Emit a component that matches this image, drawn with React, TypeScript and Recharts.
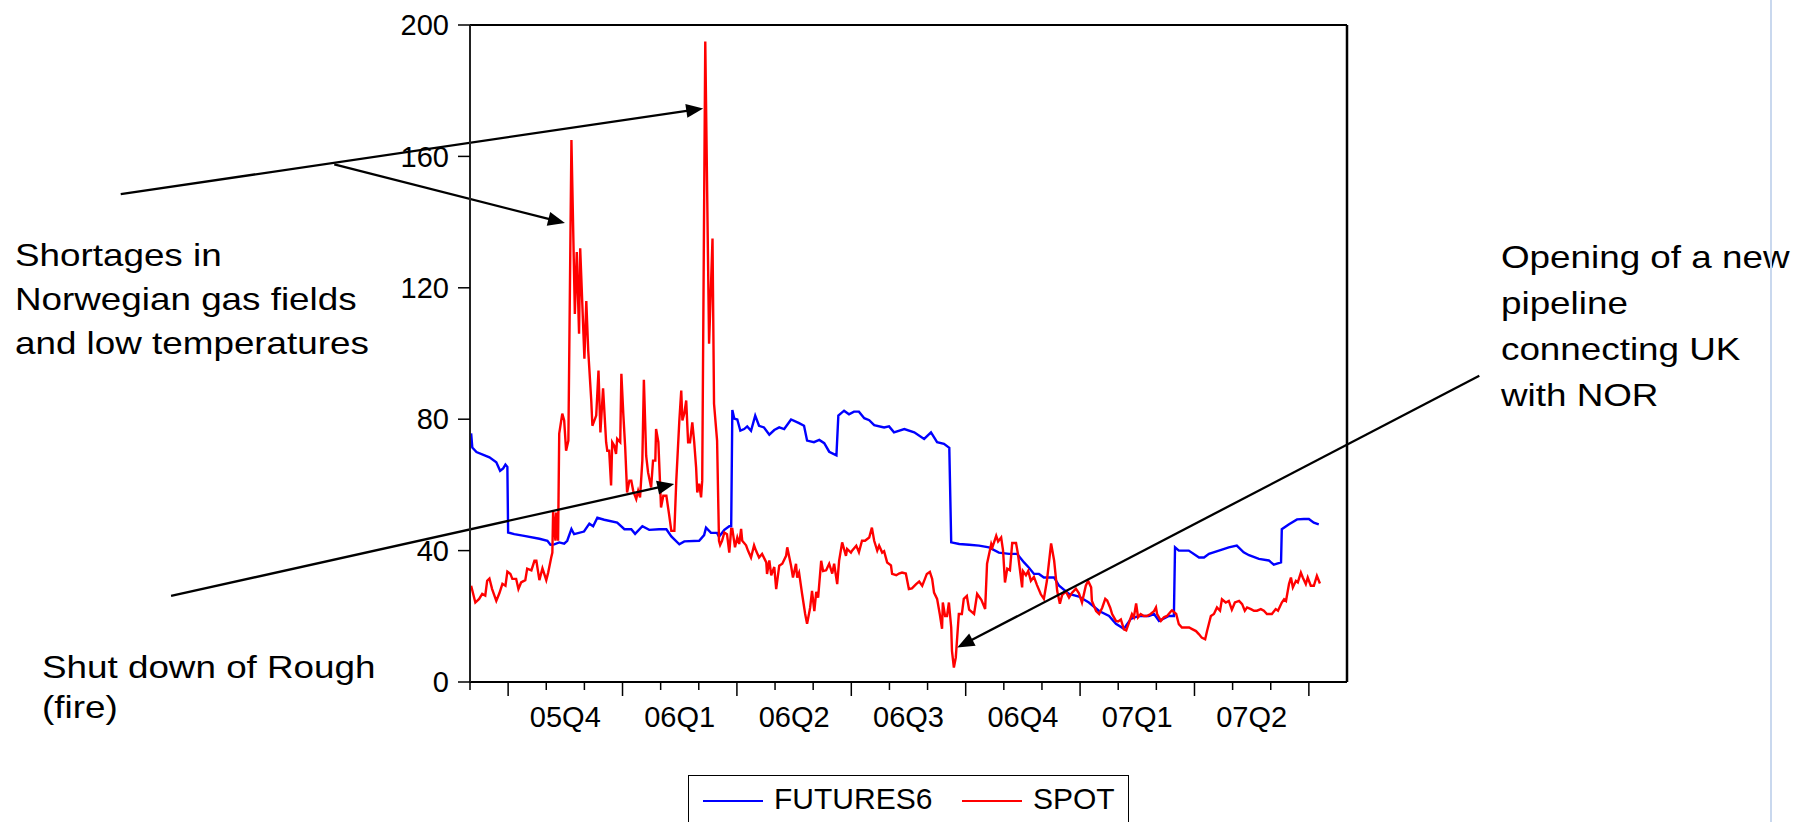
import React from 'react';
import { LineChart, Line, XAxis, YAxis, ReferenceLine, Legend } from 'recharts';

const FONT = '"Liberation Sans", Arial, Helvetica, sans-serif';

// x positions: months elapsed since 1 Sep 2005 (axis runs Sep 2005 .. Aug 2007)
const futuresMonths = [
  0.03, 0.06, 0.17, 0.51, 0.69, 0.79, 0.87, 0.93, 0.98, 1.0,
  1.16, 1.42, 1.82, 2.03, 2.11, 2.21, 2.34, 2.47, 2.55, 2.66,
  2.73, 2.99, 3.13, 3.23, 3.34, 3.52, 3.86, 4.05, 4.23, 4.33,
  4.52, 4.7, 4.96, 5.15, 5.28, 5.49, 5.62, 6.01, 6.14, 6.19,
  6.32, 6.48, 6.53, 6.67, 6.8, 6.85, 6.88, 6.93, 7.01, 7.09,
  7.19, 7.27, 7.37, 7.48, 7.58, 7.71, 7.85, 7.98, 8.11, 8.24,
  8.42, 8.63, 8.76, 8.84, 9.02, 9.16, 9.29, 9.42, 9.61, 9.66,
  9.81, 9.94, 10.07, 10.2, 10.34, 10.47, 10.6, 10.86, 10.99, 11.12,
  11.39, 11.65, 11.91, 12.09, 12.25, 12.43, 12.57, 12.62, 12.83, 13.09,
  13.35, 13.61, 13.87, 14.14, 14.35, 14.53, 14.66, 14.79, 14.92, 15.05,
  15.32, 15.45, 15.71, 15.97, 16.23, 16.5, 16.76, 16.94, 17.15, 17.33,
  17.54, 17.8, 17.94, 18.07, 18.33, 18.46, 18.49, 18.59, 18.85, 19.12,
  19.25, 19.38, 19.64, 19.9, 20.11, 20.29, 20.43, 20.69, 20.95, 21.08,
  21.27, 21.29, 21.48, 21.69, 21.87, 22.0, 22.13, 22.26,
];
const futuresValues = [
  75.7, 71.4, 70, 68.4, 66.9, 64.3, 65, 66.2, 65.5, 45.5,
  45, 44.5, 43.6, 43, 41.8, 41.9, 42.5, 42.1, 43, 46.6,
  45, 45.8, 48.2, 47.4, 50, 49.4, 48.5, 46.5, 46.5, 45.1,
  47.4, 46.3, 46.5, 46.5, 44.3, 41.9, 42.8, 43, 44.7, 47,
  45.4, 45.4, 44.2, 46.3, 47.4, 47.4, 82.8, 80.2, 79.9, 76.5,
  77, 77.8, 76.5, 81.1, 78, 77.5, 75.3, 76.7, 77.5, 77,
  79.9, 78.8, 78, 73.5, 73, 73.7, 72.7, 70.1, 69, 81.1,
  82.6, 81.5, 82.3, 82.3, 80.3, 79.7, 78.2, 77.5, 77.8, 76,
  77, 76, 74, 76, 73, 72.5, 71.3, 42.5, 42, 41.8,
  41.5, 41, 39.4, 39, 39, 36.4, 34.8, 32.9, 32.9, 31.8,
  31.8, 29.3, 26.8, 26, 24.2, 21.6, 20.1, 17.7, 16.2, 19.2,
  20.1, 20.1, 20.7, 18.6, 20.1, 20.1, 41, 40, 40, 37.9,
  37.9, 39, 40, 41, 41.5, 39.5, 38.6, 37.5, 37, 35.7,
  36.4, 46.5, 48, 49.5, 49.6, 49.6, 48.5, 48,
];

const spotMonths = [
  0.03, 0.14, 0.24, 0.32, 0.4, 0.45, 0.51, 0.58, 0.69, 0.77,
  0.85, 0.93, 0.98, 1.06, 1.11, 1.21, 1.27, 1.34, 1.45, 1.5,
  1.61, 1.69, 1.74, 1.82, 1.9, 2.0, 2.05, 2.13, 2.16, 2.18,
  2.24, 2.26, 2.31, 2.34, 2.42, 2.47, 2.52, 2.58, 2.66, 2.75,
  2.8, 2.86, 2.89, 3.0, 3.05, 3.1, 3.18, 3.21, 3.31, 3.37,
  3.42, 3.49, 3.57, 3.6, 3.65, 3.7, 3.73, 3.78, 3.83, 3.86,
  3.94, 3.97, 4.02, 4.07, 4.12, 4.18, 4.23, 4.28, 4.36, 4.41,
  4.46, 4.52, 4.56, 4.62, 4.67, 4.75, 4.8, 4.86, 4.88, 4.94,
  5.01, 5.07, 5.15, 5.22, 5.28, 5.36, 5.41, 5.49, 5.54, 5.57,
  5.62, 5.67, 5.72, 5.77, 5.83, 5.88, 5.93, 5.96, 6.01, 6.06,
  6.09, 6.17, 6.27, 6.36, 6.4, 6.48, 6.53, 6.56, 6.61, 6.67,
  6.74, 6.8, 6.85, 6.88, 6.95, 7.01, 7.06, 7.11, 7.14, 7.24,
  7.29, 7.37, 7.45, 7.5, 7.58, 7.66, 7.77, 7.79, 7.85, 7.9,
  7.98, 8.03, 8.11, 8.19, 8.29, 8.32, 8.42, 8.47, 8.55, 8.58,
  8.63, 8.71, 8.79, 8.84, 8.92, 8.97, 9.03, 9.08, 9.13, 9.21,
  9.26, 9.34, 9.42, 9.5, 9.55, 9.63, 9.68, 9.76, 9.86, 9.89,
  9.99, 10.02, 10.13, 10.2, 10.28, 10.36, 10.47, 10.54, 10.6, 10.68,
  10.73, 10.81, 10.86, 10.94, 11.04, 11.07, 11.18, 11.25, 11.33, 11.43,
  11.51, 11.59, 11.7, 11.78, 11.86, 11.91, 11.98, 12.06, 12.12, 12.17,
  12.25, 12.32, 12.38, 12.4, 12.46, 12.51, 12.56, 12.62, 12.64, 12.69,
  12.74, 12.82, 12.9, 12.95, 13.03, 13.09, 13.22, 13.3, 13.41, 13.51,
  13.56, 13.67, 13.7, 13.8, 13.85, 13.93, 13.98, 14.03, 14.09, 14.16,
  14.22, 14.32, 14.37, 14.48, 14.5, 14.58, 14.64, 14.71, 14.79, 14.87,
  14.97, 15.05, 15.13, 15.24, 15.32, 15.4, 15.47, 15.53, 15.63, 15.71,
  15.79, 15.89, 15.97, 16.05, 16.15, 16.21, 16.29, 16.31, 16.42, 16.5,
  16.58, 16.66, 16.71, 16.79, 16.84, 16.94, 17.0, 17.07, 17.15, 17.21,
  17.28, 17.36, 17.41, 17.47, 17.52, 17.59, 17.67, 17.75, 17.85, 17.94,
  17.99, 18.02, 18.12, 18.2, 18.28, 18.39, 18.41, 18.52, 18.59, 18.67,
  18.78, 18.86, 18.94, 19.04, 19.12, 19.19, 19.28, 19.33, 19.43, 19.51,
  19.59, 19.67, 19.72, 19.82, 19.9, 19.98, 20.06, 20.17, 20.25, 20.32,
  20.38, 20.48, 20.56, 20.64, 20.74, 20.82, 20.9, 21.03, 21.13, 21.19,
  21.29, 21.35, 21.4, 21.48, 21.53, 21.58, 21.66, 21.71, 21.79, 21.84,
  21.92, 21.97, 22.05, 22.13, 22.21, 22.29,
];
const spotValues = [
  29.3, 24.2, 25.3, 26.8, 26.3, 30.8, 31.5, 28.3, 24.7, 27,
  29.9, 29.3, 33.6, 32.9, 31.4, 31.4, 28.3, 30.3, 31, 34.5,
  34, 36.9, 36.9, 31, 34.6, 31, 33.3, 37.9, 39.4, 52,
  43, 51.6, 43, 75.6, 81.7, 79.6, 70.4, 73.5, 165, 112,
  130.9, 106, 132, 98.4, 116, 101, 85.7, 78, 81.1, 94.8,
  76, 89.4, 73, 70.4, 70.4, 59.8, 73, 72, 69.4, 74,
  73, 93.8, 81.7, 71.4, 57.7, 61.3, 61.3, 58.2, 55.7, 58.2,
  56.2, 67.4, 92, 68.9, 63.8, 59.2, 67.4, 67.4, 77, 73,
  53.1, 56.7, 56.7, 51.1, 46, 46, 61.3, 79.6, 88.7, 79.6,
  81.7, 85.7, 73, 73, 79, 73, 65.3, 57.7, 60.4, 56.2,
  61.3, 195, 103, 135, 84.7, 73.5, 43, 41.7, 43, 45.5,
  45, 39.4, 46.6, 46.6, 41, 44, 42, 46.6, 43, 41.6,
  40, 37.9, 41.6, 40, 37.9, 39, 36.4, 32.9, 37, 32.5,
  35, 28.3, 35.4, 36, 38.4, 41, 35.4, 31.8, 36, 31.8,
  33.3, 26.8, 20.7, 17.7, 22.6, 27.7, 21.6, 27.4, 25.7, 36.9,
  33.8, 34, 36, 33, 36, 29.8, 36.9, 42.5, 38.4, 40.5,
  39.4, 40, 41.5, 39.5, 43, 43, 44, 47, 43, 40,
  41.5, 39.4, 39.8, 36.4, 35.5, 32.9, 32.5, 33, 33.3, 33,
  28.3, 28.5, 29.8, 30.6, 29.3, 30.8, 32.9, 33.5, 31.4, 27.2,
  25.3, 20.7, 16.2, 24.2, 20.1, 20.1, 24.2, 16.6, 9.5, 4.4,
  7.4, 20.7, 20.7, 25.3, 26.2, 22, 20.7, 26.8, 25, 22.2,
  36, 42, 41, 44.5, 42.8, 44, 40, 30.3, 34.5, 34,
  42.3, 42.3, 39, 28.8, 33.8, 32.5, 33.8, 30.8, 32, 29.5,
  26.7, 25.3, 30.8, 42.2, 36.9, 27.7, 23.8, 26.5, 27.5, 25.7,
  27.2, 28.4, 27, 24.2, 29.3, 30.8, 28.8, 24.7, 21.6, 20.7,
  22.6, 25.3, 24.8, 22.6, 20.7, 18.6, 18.4, 19, 16, 15.7,
  18, 20.7, 19.7, 23.9, 19.7, 20.7, 20.1, 20.1, 20.7, 21.6,
  22.7, 20.7, 18.6, 19.7, 20.1, 21.6, 21.8, 20.7, 17.6, 16.6,
  16.6, 16.6, 16.1, 15.5, 14.5, 13.5, 13, 15.5, 20.1, 20.7,
  22.7, 21.7, 25.2, 24.2, 24.7, 22, 24.2, 24.7, 23.7, 21.7,
  22.7, 22.2, 21.7, 21.7, 22.2, 21.7, 20.7, 20.7, 22.2, 21.7,
  24.2, 25.2, 24.7, 29.9, 31.8, 28.8, 30.8, 30.3, 33.3, 31.8,
  29.8, 31.8, 29.3, 29.3, 32.3, 30,
];

const yTicks = [0, 40, 80, 120, 160, 200];
const monthTicks = [0, 1, 2, 3, 4, 5, 6, 7, 8, 9, 10, 11, 12, 13, 14, 15, 16, 17, 18, 19, 20, 21, 22];
const quarterLabels = ['05Q4', '06Q1', '06Q2', '06Q3', '06Q4', '07Q1', '07Q2'];
const quarterCenters = [2.5, 5.5, 8.5, 11.5, 14.5, 17.5, 20.5];
const seriesNames = ['FUTURES6', 'SPOT'];
const seriesColors = ['#0000ff', '#ff0000'];

// annotation arrows: [tail, head] in data coordinates (months, value)
const arrowSegments = [
  [{ x: -9.16, y: 148.5 }, { x: 6.115, y: 174.6 }],
  [{ x: -3.56, y: 157.6 }, { x: 2.49, y: 139.7 }],
  [{ x: -7.84, y: 26.2 }, { x: 5.355, y: 60.3 }],
  [{ x: 26.47, y: 93.2 }, { x: 12.78, y: 10.5 }],
];

const zip = (xs: number[], ys: number[]) => {
  const n = Math.min(xs.length, ys.length);
  const out: { m: number; v: number }[] = [];
  for (let i = 0; i < n; i++) out.push({ m: xs[i], v: ys[i] });
  return out;
};
const futuresData = zip(futuresMonths, futuresValues);
const spotData = zip(spotMonths, spotValues);

const XTick = (props: any) => {
  const { x, y, payload } = props;
  const v = payload.value;
  const qi = quarterCenters.indexOf(v);
  if (qi >= 0) {
    return (
      <text x={x} y={y + 45} textAnchor="middle" fontSize={29} fontFamily={FONT} fill="#000">
        {quarterLabels[qi]}
      </text>
    );
  }
  const long = (v - 1) % 3 === 0;
  return <line x1={x} y1={y} x2={x} y2={y + (long ? 14 : 8)} stroke="#000" strokeWidth={1.5} />;
};

const arrowShape = (p: any) => {
  const { x1, y1, x2, y2 } = p;
  const dx = x2 - x1;
  const dy = y2 - y1;
  const len = Math.hypot(dx, dy) || 1;
  const ux = dx / len;
  const uy = dy / len;
  const hl = 17;
  const hw = 7;
  const bx = x2 - ux * hl;
  const by = y2 - uy * hl;
  const pts = `${x2},${y2} ${bx - uy * hw},${by + ux * hw} ${bx + uy * hw},${by - ux * hw}`;
  return (
    <g>
      <line x1={x1} y1={y1} x2={bx + ux * 2} y2={by + uy * 2} stroke="#000" strokeWidth={2.3} />
      <polygon points={pts} fill="#000" />
    </g>
  );
};

const LegendBox = (props: any) => {
  const payload = props.payload || [];
  const items = seriesNames.map((name, i) => {
    const found = payload.find((p: any) => p.value === name);
    return { name, color: found ? found.color : seriesColors[i] };
  });
  return (
    <div style={{ width: 441, height: 60, border: '1.5px solid #000', boxSizing: 'border-box', background: '#fff', position: 'relative' }}>
      <svg width={441} height={60} style={{ position: 'absolute', left: -1.5, top: -1.5 }}>
        {items.map((it, i) => (
          <g key={it.name}>
            <line x1={15 + i * 259} x2={75 + i * 259} y1={26} y2={26} stroke={it.color} strokeWidth={2.2} />
            <text x={86 + i * 259} y={34} fontSize={30} fontFamily={FONT} fill="#000">
              {it.name}
            </text>
          </g>
        ))}
      </svg>
    </div>
  );
};

const noteStyle = (left: number, top: number, lineHeight: number): React.CSSProperties => ({
  position: 'absolute',
  left,
  top,
  fontSize: 32,
  lineHeight: `${lineHeight}px`,
  fontFamily: FONT,
  color: '#000',
  whiteSpace: 'nowrap',
  transform: 'scaleX(1.15)',
  transformOrigin: '0 0',
});

export default function App() {
  return (
    <div style={{ position: 'absolute', left: 0, top: 0, width: 1811, height: 822, background: '#fff', overflow: 'hidden', fontFamily: FONT }}>
      <div style={noteStyle(15, 233, 44)}>
        Shortages in<br />Norwegian gas fields<br />and low temperatures
      </div>
      <div style={noteStyle(42, 647, 40)}>
        Shut down of Rough<br />(fire)
      </div>
      <div style={noteStyle(1501, 234, 46)}>
        Opening of a new<br />pipeline<br />connecting UK<br />with NOR
      </div>
      <div style={{ position: 'absolute', left: 1770, top: 0, width: 2, height: 822, background: '#c9d8ee' }} />
      <div style={{ position: 'absolute', left: 0, top: 0 }}>
        <LineChart width={1811} height={822} margin={{ top: 25, right: 464, bottom: 80, left: 410 }}>
          <XAxis
            dataKey="m"
            type="number"
            domain={[0, 23]}
            ticks={[...monthTicks, ...quarterCenters]}
            interval={0}
            tickSize={0}
            tickMargin={0}
            tickLine={false}
            tick={<XTick />}
            height={60}
            axisLine={{ stroke: '#000', strokeWidth: 2 }}
          />
          <YAxis
            type="number"
            domain={[0, 200]}
            ticks={yTicks}
            interval={0}
            width={60}
            tickSize={12}
            tickMargin={9}
            tickLine={{ stroke: '#000', strokeWidth: 1.5 }}
            axisLine={{ stroke: '#222', strokeWidth: 2 }}
            tick={{ fontSize: 29, fill: '#000', fontFamily: FONT }}
          />
          <ReferenceLine y={200} stroke="#000" strokeWidth={2} ifOverflow="visible" />
          <ReferenceLine x={23} stroke="#000" strokeWidth={2.5} ifOverflow="visible" />
          <Line
            data={futuresData}
            dataKey="v"
            name={seriesNames[0]}
            stroke={seriesColors[0]}
            strokeWidth={2.4}
            dot={false}
            type="linear"
            isAnimationActive={false}
          />
          <Line
            data={spotData}
            dataKey="v"
            name={seriesNames[1]}
            stroke={seriesColors[1]}
            strokeWidth={2.4}
            dot={false}
            type="linear"
            isAnimationActive={false}
          />
          {arrowSegments.map((seg, i) => (
            <ReferenceLine key={i} segment={seg} ifOverflow="visible" shape={arrowShape} />
          ))}
          <Legend
            verticalAlign="middle"
            layout="horizontal"
            align="center"
            wrapperStyle={{ position: 'absolute', left: 688, top: 775, width: 441, height: 60 }}
            content={<LegendBox />}
          />
        </LineChart>
      </div>
    </div>
  );
}
